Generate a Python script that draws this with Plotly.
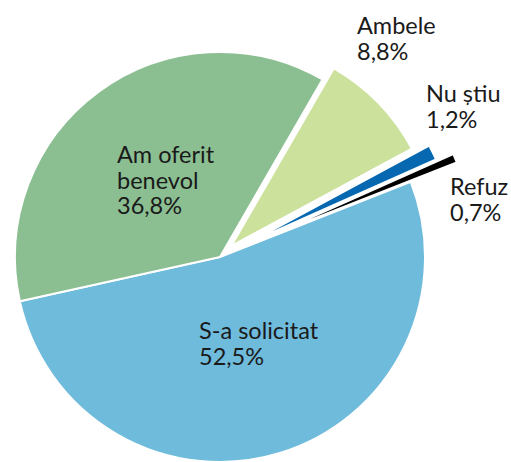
import plotly.graph_objects as go

labels = ["Ambele", "Nu știu", "Refuz", "S-a solicitat", "Am oferit benevol"]
values = [8.8, 1.2, 0.7, 52.5, 36.8]
colors = ["#CCE19B", "#0568B0", "#000000", "#6FBBDC", "#8BBF92"]
label_lines = [["Ambele"], ["Nu știu"], ["Refuz"], ["S-a solicitat"], ["Am oferit", "benevol"]]
pct_text = ["8,8%", "1,2%", "0,7%", "52,5%", "36,8%"]

W, H = 511, 462
CX, CY, R = 220, 257, 205
ROT = 30
# pull offsets (pixels) for detached slices
pull_px = {0: (11.4, -11.2), 1: (28.7, -14.2), 2: (46.0, -19.5)}
# label anchor (left x, first baseline y) in pixels
label_pos = [(356, 34), (425, 102), (449, 195), (198, 339), (116, 163)]
LINE = 25.5
FS = 23.5
FONT = "Lato"

fig = go.Figure()

def domain(dx, dy):
    cx, cy = CX + dx, CY + dy
    return dict(x=[(cx - R) / W, (cx + R) / W],
                y=[max(0, 1 - (cy + R) / H), min(1, 1 - (cy - R) / H)])

# main pie: non-detached slices
main_colors = [c if i not in pull_px else "rgba(0,0,0,0)" for i, c in enumerate(colors)]
main_lw = [2 if i not in pull_px else 0 for i in range(len(values))]
fig.add_trace(go.Pie(
    labels=labels, values=values, sort=False, direction="clockwise", rotation=ROT,
    marker=dict(colors=main_colors, line=dict(color="white", width=main_lw)),
    textinfo="none", hoverinfo="label+percent", domain=domain(0, 0), showlegend=False,
))
for i, (dx, dy) in pull_px.items():
    cols = [colors[j] if j == i else "rgba(0,0,0,0)" for j in range(len(values))]
    lw = [2 if j == i else 0 for j in range(len(values))]
    fig.add_trace(go.Pie(
        labels=labels, values=values, sort=False, direction="clockwise", rotation=ROT,
        marker=dict(colors=cols, line=dict(color="white", width=lw)),
        textinfo="none", hoverinfo="skip", domain=domain(dx, dy), showlegend=False,
    ))

annotations = []
for k, (x0, y0) in enumerate(label_pos):
    lines = label_lines[k] + [pct_text[k]]
    for n, t in enumerate(lines):
        yb = y0 + n * LINE
        annotations.append(dict(
            text=t, x=x0 / W, y=1 - (yb - 0.37 * FS) / H, xref="paper", yref="paper",
            xanchor="left", yanchor="middle", showarrow=False, align="left",
            height=24, valign="middle", borderpad=0,
            font=dict(family=FONT, size=FS, color="#1a1a1a"),
        ))

fig.update_layout(
    width=W, height=H, margin=dict(l=0, r=0, t=0, b=0),
    paper_bgcolor="white", plot_bgcolor="white", annotations=annotations,
)
fig.write_html("out.html", post_script="document.body.style.margin='0';",
               config={"displayModeBar": False})
